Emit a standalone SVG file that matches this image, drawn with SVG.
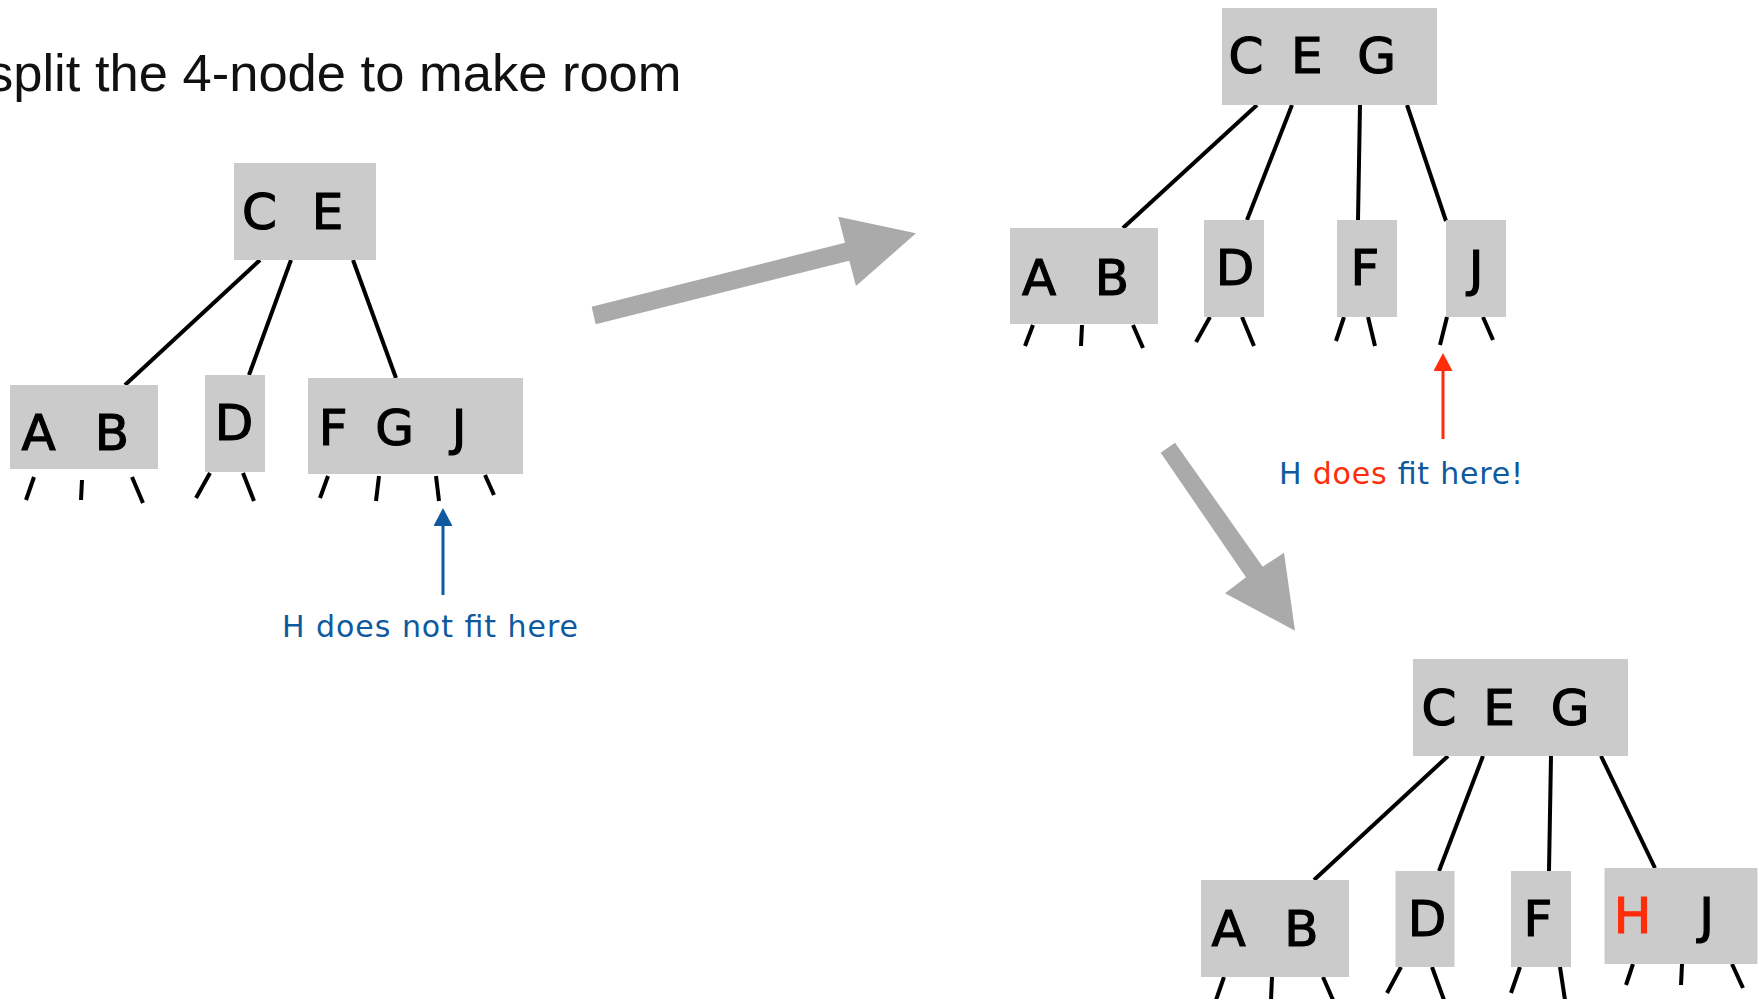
<svg xmlns="http://www.w3.org/2000/svg" width="1760" height="999" viewBox="0 0 1760 999">
<style>
.box{fill:#cbcbcb}
.key{font-family:"Comic Sans MS","DejaVu Sans",sans-serif;font-size:50px;fill:#000;stroke:#000;stroke-width:1.2;text-anchor:middle}
.key .red{stroke:#ff2d0a}
.red{fill:#ff2d0a}
.blue{fill:#0f5a9e}
.edge{stroke:#000;stroke-width:4;fill:none}
.big{fill:#aaaaaa}
.note{font-family:"Comic Sans MS","DejaVu Sans",sans-serif;font-size:30px}
.title{font-family:"Liberation Sans",Arial,sans-serif;font-size:52.5px;fill:#111}
</style>
<defs>
<marker id="hb" markerUnits="userSpaceOnUse" markerWidth="20" markerHeight="20" refX="14" refY="9.5" orient="auto"><path d="M0,0 L18,9.5 L0,19 z" fill="#0f5a9e"/></marker>
<marker id="hr" markerUnits="userSpaceOnUse" markerWidth="20" markerHeight="20" refX="14" refY="9.5" orient="auto"><path d="M0,0 L18,9.5 L0,19 z" fill="#ff2d0a"/></marker>
</defs>
<rect width="1760" height="999" fill="#fff"/>
<text class="title" x="-13" y="91">split the 4-node to make room</text>

<g id="connectors">
<g id="edges1" class="edge">
<line x1="260" y1="260" x2="125" y2="385"/>
<line x1="291" y1="260" x2="249" y2="375"/>
<line x1="353" y1="260" x2="396" y2="378"/>
<line x1="34" y1="477" x2="26" y2="500"/>
<line x1="82" y1="480" x2="81" y2="500"/>
<line x1="132" y1="477" x2="143" y2="503"/>
<line x1="210" y1="473" x2="196" y2="498"/>
<line x1="243" y1="473" x2="254" y2="501"/>
<line x1="328" y1="476" x2="320" y2="498"/>
<line x1="379" y1="476" x2="376" y2="501"/>
<line x1="436" y1="476" x2="439" y2="501"/>
<line x1="485" y1="475" x2="494" y2="495"/>
</g>
<g id="edges2" class="edge">
<line x1="1257" y1="105" x2="1123" y2="228"/>
<line x1="1292" y1="105" x2="1247" y2="220"/>
<line x1="1360" y1="105" x2="1358" y2="220"/>
<line x1="1407" y1="105" x2="1446" y2="221"/>
<line x1="1033" y1="325" x2="1025" y2="346"/>
<line x1="1082" y1="325" x2="1081" y2="346"/>
<line x1="1133" y1="325" x2="1143" y2="348"/>
<line x1="1210" y1="317" x2="1196" y2="342"/>
<line x1="1242" y1="317" x2="1254" y2="346"/>
<line x1="1344" y1="317" x2="1336" y2="341"/>
<line x1="1368" y1="317" x2="1375" y2="346"/>
<line x1="1447" y1="317" x2="1440" y2="345"/>
<line x1="1483" y1="317" x2="1493" y2="340"/>
</g>
<g id="edges3" class="edge">
<line x1="1448" y1="756" x2="1314" y2="880"/>
<line x1="1483" y1="756" x2="1439" y2="871"/>
<line x1="1551" y1="756" x2="1549" y2="871"/>
<line x1="1601" y1="756" x2="1655" y2="868"/>
<line x1="1224" y1="977" x2="1216" y2="1000"/>
<line x1="1272" y1="977" x2="1271" y2="1000"/>
<line x1="1323" y1="977" x2="1333" y2="1000"/>
<line x1="1401" y1="967" x2="1387" y2="993"/>
<line x1="1432" y1="967" x2="1444" y2="1000"/>
<line x1="1520" y1="967" x2="1511" y2="993"/>
<line x1="1560" y1="967" x2="1565" y2="1000"/>
<line x1="1633" y1="964" x2="1626" y2="985"/>
<line x1="1682" y1="964" x2="1681" y2="985"/>
<line x1="1732" y1="964" x2="1743" y2="988"/>
</g>
<line id="arrow-blue" x1="443" y1="595" x2="443" y2="512" stroke="#0f5a9e" stroke-width="3" marker-end="url(#hb)"/>
<line id="arrow-red" x1="1443" y1="439" x2="1443" y2="357" stroke="#ff2d0a" stroke-width="3" marker-end="url(#hr)"/>
<polygon id="step1" class="big" points="591.7,306.7 845,242.7 838.3,216.7 916,233.3 856,286 849.3,260.7 595.7,324.3"/>
<polygon id="step2" class="big" points="1160.7,452.7 1246,577.3 1225,593.3 1295,630.7 1284,552.7 1262.7,566.7 1175,442.7"/>
</g>

<g id="t1-CE"><rect class="box" x="234" y="163" width="142" height="97"/><text class="key" y="229"><tspan x="267.5">C</tspan> <tspan x="327.5">E</tspan></text></g>
<g id="t1-AB"><rect class="box" x="10" y="385" width="148" height="84"/><text class="key" y="450"><tspan x="46.5">A</tspan> <tspan x="112">B</tspan></text></g>
<g id="t1-D"><rect class="box" x="205" y="375" width="60" height="97"/><text class="key" x="234" y="440">D</text></g>
<g id="t1-FGJ"><rect class="box" x="308" y="378" width="215" height="96"/><text class="key" y="445"><tspan x="341">F</tspan> <tspan x="402.5">G</tspan> <tspan x="459">J</tspan></text></g>
<text id="note1" class="note blue" x="282" y="637" textLength="296">H does not fit here</text>

<g id="t2-CEG"><rect class="box" x="1222" y="8" width="215" height="97"/><text class="key" y="73"><tspan x="1254">C</tspan> <tspan x="1314.7">E</tspan> <tspan x="1376.7">G</tspan></text></g>
<g id="t2-AB"><rect class="box" x="1010" y="228" width="148" height="96"/><text class="key" y="295"><tspan x="1047">A</tspan> <tspan x="1112">B</tspan></text></g>
<g id="t2-D"><rect class="box" x="1204" y="220" width="60" height="97"/><text class="key" x="1235" y="285">D</text></g>
<g id="t2-F"><rect class="box" x="1337" y="220" width="60" height="97"/><text class="key" x="1365" y="285">F</text></g>
<g id="t2-J"><rect class="box" x="1446" y="220" width="60" height="97"/><text class="key" x="1476" y="286">J</text></g>
<text id="note2" class="note blue" x="1279" y="484" textLength="244">H <tspan class="red">does</tspan> fit here!</text>

<g id="t3-CEG"><rect class="box" x="1413" y="659" width="215" height="97"/><text class="key" y="725"><tspan x="1447">C</tspan> <tspan x="1507">E</tspan> <tspan x="1570">G</tspan></text></g>
<g id="t3-AB"><rect class="box" x="1201" y="880" width="148" height="97"/><text class="key" y="946"><tspan x="1236.5">A</tspan> <tspan x="1301.3">B</tspan></text></g>
<g id="t3-D"><rect class="box" x="1395.5" y="871" width="59" height="96"/><text class="key" x="1427" y="936">D</text></g>
<g id="t3-F"><rect class="box" x="1511" y="871" width="60" height="96"/><text class="key" x="1538" y="936">F</text></g>
<g id="t3-HJ"><rect class="box" x="1604.5" y="868" width="153" height="96"/><text class="key" y="933"><tspan x="1640.5" class="red">H</tspan> <tspan x="1706.5">J</tspan></text></g>
</svg>
